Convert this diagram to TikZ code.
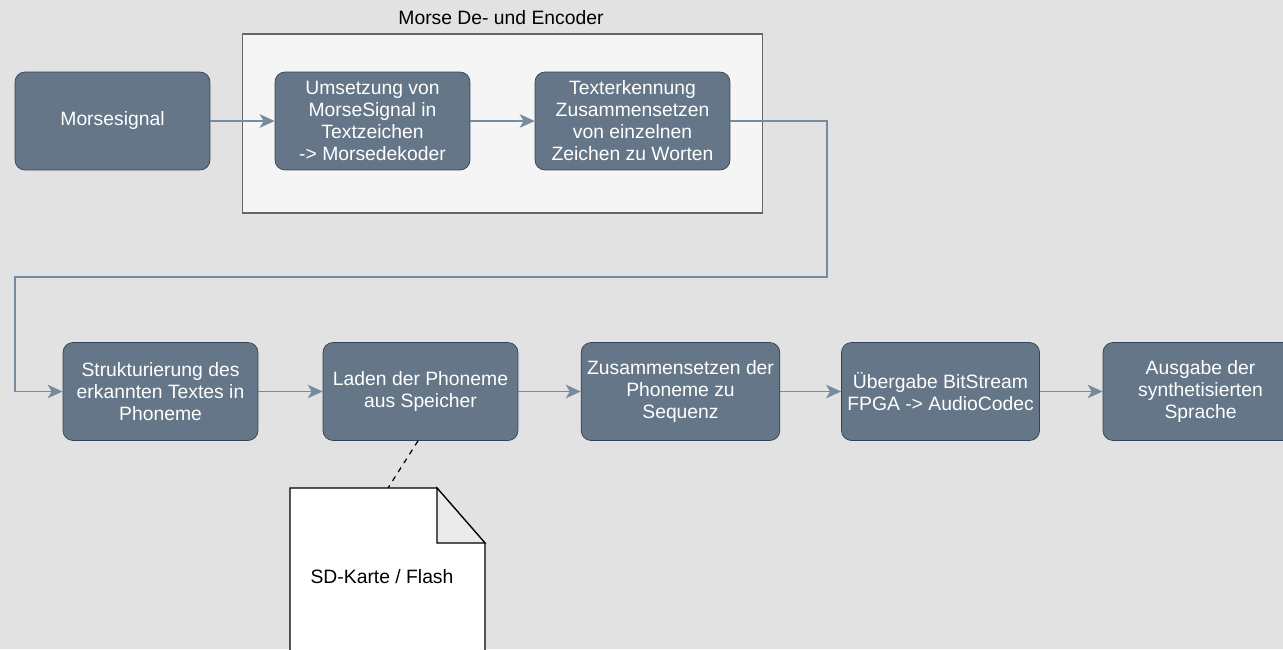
\documentclass[tikz,border=0pt]{standalone}
\usepackage{fontspec}
\setmainfont{Liberation Sans}
\usetikzlibrary{
    arrows.meta,
    positioning
}

\begin{document}
\begin{tikzpicture}[
    x=0.02cm,
    y=-0.02cm,
    box/.style={
    	draw=boxline,
    	fill=boxfill,
    	text=white,
    	rounded corners=0.2cm,
    	minimum width=3.9cm,
    	minimum height=1.96cm,
    	align=center,
    	anchor=center,
    	font=\fontsize{11}{12.5}\selectfont
    },
    group/.style={
        draw=groupline,
        fill=groupfill,
        line width=0.6pt,
        minimum width=10.42cm,
        minimum height=3.58cm,
        anchor=center
    },
    flow/.style={
        draw=flowline,
        line width=1.1pt,
        -{Stealth[length=0.3cm,width=0.27cm,inset=0.08cm]}
    }]
    \definecolor{bgfill}{RGB}{226, 226, 226}
    \definecolor{boxfill}{RGB}{100, 118, 135}
    \definecolor{boxline}{RGB}{49, 67, 84}
    \definecolor{flowline}{RGB}{120, 138, 160}
    \definecolor{groupfill}{RGB}{245, 245, 245}
    \definecolor{groupline}{RGB}{102, 102, 102}
    \definecolor{foldfill}{RGB}{235, 235, 235}

    \fill[bgfill] (0,0) rectangle (1283,649);
    \useasboundingbox (0,0) rectangle (1283,649);

    % Morse De- und Encoder
    \node[group] (coder) at (502.5,123.5) {};
    \node[align=center,anchor=center,font=\fontsize{11}{12.5}\selectfont] (codertitle) at (501,18) {Morse De- und Encoder};

    \node[box] (signal) at (112.5,121) {Morsesignal};
    \node[box] (umsetz) at (372.5,121) {Umsetzung von\\MorseSignal in\\Textzeichen\\-> Morsedekoder};
    \node[box] (texterk) at (632.5,121) {Texterkennung\\Zusammensetzen\\von einzelnen\\Zeichen zu Worten};

    \node[box] (strukt) at (160.5,391.5) {Strukturierung des\\erkannten Textes in\\Phoneme};
    \node[box] (laden) at (420.5,391.5) {Laden der Phoneme\\aus Speicher};
    \node[box] (sequenz) at (680.5,391.5) {Zusammensetzen der\\Phoneme zu\\Sequenz};
    \node[box] (bitstream) at (940.5,391.5) {Übergabe BitStream\\FPGA -> AudioCodec};
    \node[box] (ausgabe) at (1200.5,391.5) {Ausgabe der\\synthetisierten\\Sprache};

    \coordinate (bend1) at (827,277);
    \coordinate (bend2) at (15,277);

    \draw[flow] (signal) -- (umsetz);
    \draw[flow] (umsetz) -- (texterk);
    \draw[flow] (texterk.east) -| (bend1) -- (bend2) |- (strukt.west);
    \draw[flow] (strukt) -- (laden);
    \draw[flow] (laden) -- (sequenz);
    \draw[flow] (sequenz) -- (bitstream);
    \draw[flow] (bitstream) -- (ausgabe);

    % SD-Karte
    \filldraw[fill=white,draw=black,line width=0.7pt] (290,488) -- (437,488) -- (485,543) -- (485,700) -- (290,700) -- cycle;
    \filldraw[fill=foldfill,draw=black,line width=0.7pt] (437,488) -- (437,543) -- (485,543) -- cycle;
    \coordinate (notetop) at (388,488);
    \node[align=center,anchor=center,font=\fontsize{11}{12.5}\selectfont] (sdkarte) at (382,577) {SD-Karte / Flash};

    \draw[dashed,line width=0.7pt] ([xshift=-0.05cm]laden.south) -- (notetop);

    \end{tikzpicture}
\end{document}
